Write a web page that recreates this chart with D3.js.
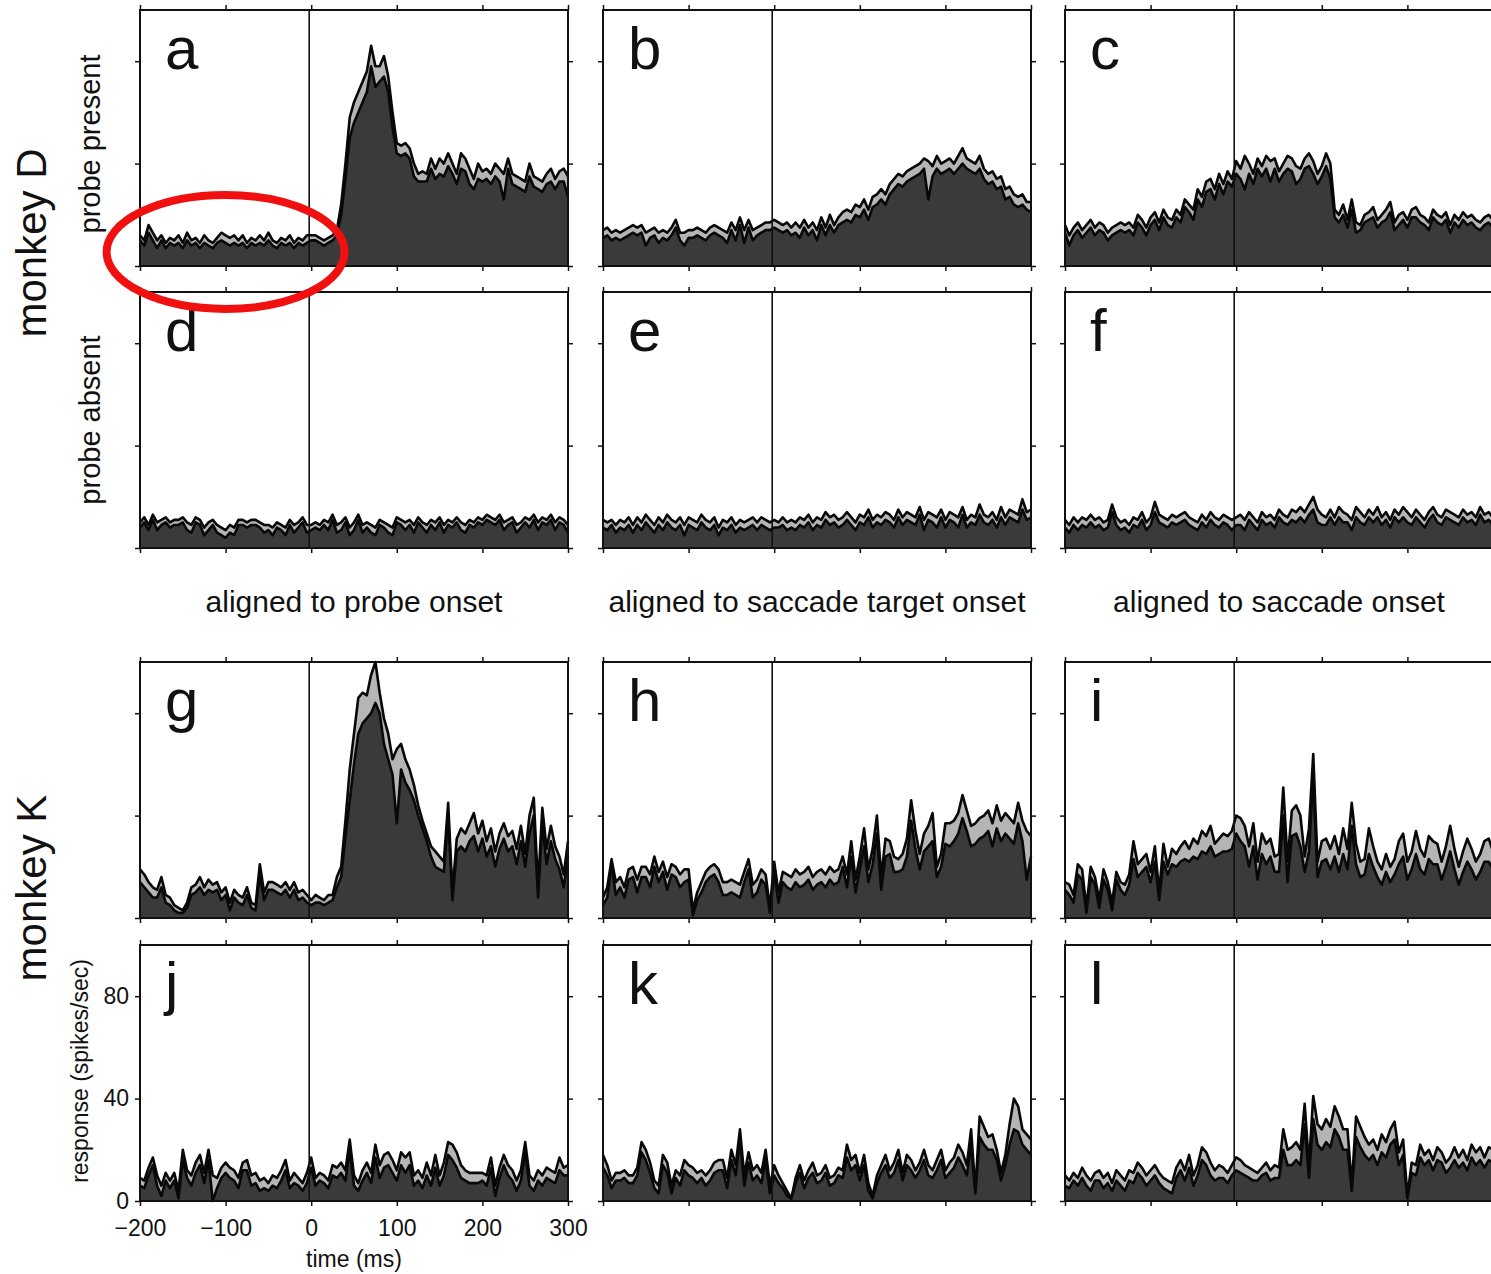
<!doctype html>
<html>
<head>
<meta charset="utf-8">
<script src="https://d3js.org/d3.v7.min.js"></script>
<style>
    body { margin: 0; background: #fff; }
    text { font-family: "Liberation Sans", Arial, sans-serif; fill: #111; }
    .tick line { stroke: #111; stroke-width: 1.5; }
</style>
</head>
<body>
<div id="fig"></div>
<script>

// time bins (ms), 5 ms wide, from -200 to 300
var times = d3.range(-200, 301, 5);
var xTicks = [-200, -100, 0, 100, 200, 300];
var yTicks = [0, 40, 80];

// monkey D, probe present
var aHi = [12,10,16,13,10,12,9,11,10,12, 9,13,10,11,9,12,10,9,11,13, 12,11,12,10,12,9,11,10,12,10, 13,10,9,11,10,12,9,11,10,12,
    12,
    12,11,10,11,12,14,24,40,58,64, 68,72,76,86,78,78,82,74,60,48, 47,48,46,40,36,37,36,42,38,42,
    40,44,40,36,44,42,38,34,40,37, 38,36,40,38,36,42,36,35,34,33, 40,35,34,33,36,38,34,37,38,35];
var aLo = [10,8,13,10,7,10,7,9,8,9, 7,10,8,9,7,9,8,7,9,10, 9,8,9,8,9,7,9,8,9,8, 10,8,7,9,8,9,7,9,8,9,
    10,
    10,9,8,9,10,12,20,34,50,56, 60,64,68,78,70,72,74,68,54,44, 43,44,42,35,33,33,33,38,34,36,
    35,39,36,32,38,37,32,30,34,33, 34,32,35,33,26,38,32,31,30,29, 35,31,30,29,32,33,30,33,33,27];
var bHi = [14,15,13,14,13,14,15,16,15,16, 13,14,15,13,14,13,15,18,13,13, 14,14,15,14,13,15,16,15,14,13, 17,14,19,14,18,14,15,16,17,17,
    18,
    17,16,17,15,17,15,18,15,17,14, 19,15,20,16,19,21,22,21,24,23, 26,22,27,28,30,28,32,34,36,35,
    37,38,39,40,42,41,39,43,40,41, 42,40,43,46,42,41,40,43,38,36, 37,34,35,30,31,28,27,28,25,25];
var bLo = [11,12,10,11,10,11,12,13,12,13, 8,11,12,9,11,10,12,15,10,8, 11,11,12,11,10,12,13,12,11,9, 14,10,16,9,15,10,12,13,14,14,
    15,
    14,13,14,12,13,11,15,12,14,10, 16,12,16,13,16,17,18,17,20,19, 22,18,23,24,26,24,28,30,32,31,
    33,34,35,36,38,26,35,38,36,37, 38,36,38,40,38,37,36,38,34,32, 33,30,31,26,27,24,23,24,22,21];
var cHi = [16,12,15,17,14,16,18,15,17,16, 13,15,16,17,16,17,15,20,18,15, 19,21,17,22,19,18,22,20,26,24, 22,30,27,33,34,30,36,32,37,34,
    41,
    38,43,40,36,42,39,43,41,42,37, 40,43,42,39,38,42,44,41,36,39, 44,40,22,20,24,18,26,17,16,20,
    21,23,18,20,22,25,17,20,21,18, 22,23,20,19,17,22,20,19,21,16, 20,18,21,19,20,18,17,19,20,18];
var cLo = [13,8,12,14,11,13,15,12,14,13, 10,12,13,14,13,14,12,17,15,12, 16,18,14,19,16,15,19,17,23,21, 18,26,23,29,30,26,32,28,33,31,
    36,
    34,30,36,32,38,35,38,33,38,33, 36,38,37,32,34,38,39,36,32,35, 39,34,19,17,20,15,22,13,14,17,
    18,19,15,17,18,21,14,16,18,15, 19,19,17,16,14,19,17,16,18,13, 17,15,18,16,17,15,14,16,17,15];

// monkey D, probe absent
var dHi = [10,12,9,13,10,11,12,10,11,11, 12,10,9,12,11,8,10,11,9,8, 7,9,8,11,11,10,11,11,10,9, 9,8,10,9,8,11,9,10,12,9,
    9,
    10,9,11,10,13,9,10,12,8,10, 13,9,10,9,8,11,10,9,8,12, 11,10,11,9,12,10,9,11,10,12,
    9,11,10,12,10,9,11,10,12,11, 13,12,11,13,10,11,12,9,10,12, 11,13,10,12,11,13,10,12,11,9];
var dLo = [8,10,7,11,7,9,10,8,9,9, 10,7,6,10,9,5,7,9,6,5, 4,6,5,9,9,8,9,9,8,6, 7,5,8,7,5,9,6,8,10,6,
    7,
    8,7,9,7,11,6,7,10,5,7, 11,6,8,6,5,9,8,6,5,10, 9,7,9,6,10,8,6,9,7,10,
    6,9,8,10,7,6,9,8,10,9, 11,10,9,11,7,9,10,6,8,10, 8,11,7,10,9,11,7,10,9,6];
var eHi = [11,10,11,9,11,10,12,9,12,10, 13,11,9,12,10,13,11,10,12,9, 12,11,10,13,11,10,12,8,11,10, 12,9,11,10,11,12,10,12,11,10,
    11,
    10,12,10,11,10,12,11,13,10,12, 11,14,12,13,11,12,14,12,10,13, 12,15,11,13,12,14,13,11,15,12,
    14,13,12,16,11,14,13,12,15,11, 14,13,12,16,11,13,12,17,13,12, 14,11,16,12,15,14,13,19,14,15];
var eLo = [8,7,9,6,8,7,9,6,9,7, 10,8,6,9,7,10,8,7,9,5, 9,8,7,10,8,7,9,5,8,7, 9,6,8,7,8,9,7,9,8,7,
    8,
    8,9,7,8,7,9,8,10,7,9, 8,11,9,10,8,9,11,9,7,10, 9,12,8,10,9,11,10,8,12,9,
    11,10,9,13,7,11,10,8,12,8, 11,10,8,13,8,10,9,13,10,9, 11,8,12,9,12,11,10,15,11,12];
var fHi = [11,9,12,10,12,11,13,11,12,10, 11,17,12,10,11,9,12,11,14,10, 12,18,13,12,11,13,12,13,14,12, 11,10,13,11,14,12,11,13,12,11,
    12,
    13,11,14,12,10,14,12,13,11,15, 13,12,15,14,16,14,17,20,15,13, 12,15,12,16,14,13,11,16,14,12,
    15,13,16,12,14,11,15,13,16,14, 12,15,13,11,14,16,13,12,15,14, 13,12,15,13,14,12,16,13,14,12];
var fLo = [8,6,9,7,9,8,10,8,9,7, 8,14,9,7,8,6,9,8,11,7, 9,14,10,9,8,10,9,10,11,9, 8,7,10,8,11,9,8,10,9,7,
    9,
    9,7,11,9,7,11,9,10,8,12, 10,9,11,10,12,10,13,15,10,9, 9,12,9,12,10,10,7,12,10,9,
    12,10,12,9,11,8,12,10,12,10, 9,12,10,8,11,13,10,9,12,11, 10,9,12,10,11,9,13,10,11,9];

// monkey K, probe present
var gHi = [19,17,14,12,11,16,9,8,5,4, 3,6,12,13,16,12,15,13,14,10, 12,6,11,9,8,12,6,5,21,10, 14,14,13,12,14,11,14,10,11,9,
    7,
    9,8,7,9,9,16,20,38,58,72, 86,88,87,95,100,88,78,72,62,66, 68,62,58,52,44,38,33,28,26,24,
    22,45,10,31,35,33,37,41,33,38, 30,35,26,33,37,32,34,27,36,25, 40,47,12,43,27,36,28,24,17,30];
var gLo = [14,12,10,8,8,12,6,5,3,2, 2,4,9,10,12,9,11,10,11,7, 9,3,8,6,5,9,4,3,17,7, 11,11,10,9,11,8,11,7,8,6,
    5,
    6,6,5,6,7,12,16,32,46,60, 72,76,78,80,84,80,68,62,56,37, 58,53,50,46,40,35,30,24,20,19,
    18,40,7,26,28,26,30,32,26,31, 24,28,20,27,31,26,28,21,30,20, 33,40,8,37,21,30,23,19,12,24];
var hHi = [8,12,23,14,16,12,19,20,15,20, 20,17,24,18,22,16,21,20,17,19, 19,3,10,14,18,20,21,19,14,14, 15,14,13,18,23,13,15,19,17,4,
    22,
    10,18,17,16,19,17,18,20,16,18, 19,17,20,18,19,24,17,30,15,24, 35,19,27,40,16,31,30,24,23,25,
    31,46,34,25,33,36,41,20,25,37, 37,38,41,48,42,36,37,39,40,42, 37,44,38,41,39,37,45,38,34,32];
var hLo = [5,8,21,9,12,8,15,16,10,16, 16,12,20,14,18,11,17,16,12,14, 15,1,7,10,14,16,17,14,9,9, 10,9,8,14,19,8,10,15,13,2,
    18,
    6,14,12,11,14,12,13,15,11,13, 14,12,15,13,14,20,12,24,10,19, 28,14,21,33,11,24,25,18,18,19,
    24,38,27,19,26,28,30,16,20,29, 28,30,33,39,34,28,29,31,32,34, 28,35,30,33,31,29,37,30,15,24];
var iHi = [14,13,9,21,19,4,20,16,7,19, 14,6,18,14,13,17,30,21,23,25, 18,28,10,29,20,27,25,28,30,27, 31,29,34,32,36,29,31,33,32,34,
    40,
    39,36,28,37,22,33,29,31,24,25, 51,22,42,44,40,24,35,64,22,30, 31,27,32,25,35,27,45,29,22,23,
    35,28,22,19,25,20,23,30,33,22, 26,34,27,24,32,30,29,22,28,36, 27,20,26,31,27,22,25,30,31,26];
var iLo = [11,9,6,17,15,2,16,13,4,15, 11,3,15,11,9,13,23,16,18,20, 14,22,7,22,17,21,20,22,23,22, 24,23,26,25,28,24,25,26,26,27,
    33,
    30,28,20,28,15,25,21,24,18,18, 40,14,32,33,28,18,26,55,16,22, 23,19,24,18,25,19,36,21,16,17,
    25,20,16,13,18,14,17,21,24,15, 19,25,19,17,23,21,21,15,20,26, 19,13,18,22,19,15,18,22,22,19];

// monkey K, probe absent
var jHi = [9,8,13,17,10,6,11,8,11,4, 20,12,10,15,18,11,20,10,9,13, 15,13,12,9,15,16,10,11,8,9, 7,10,9,12,16,8,11,9,7,11,
    17,
    9,11,10,8,14,13,15,12,24,10, 7,12,15,11,22,14,18,19,16,12, 19,17,19,10,12,9,15,10,18,10,
    15,23,22,19,14,12,11,11,11,11, 10,17,6,13,18,14,12,8,12,23, 10,8,12,10,13,12,11,17,13,14];
var jLo = [6,5,10,14,6,2,8,5,8,1, 16,9,6,11,14,7,16,0,5,9, 11,9,8,5,12,12,6,7,4,5, 4,6,5,8,12,5,7,6,4,7,
    13,
    6,8,7,5,10,9,11,8,20,6, 4,8,11,7,17,9,13,14,11,8, 14,11,14,6,8,5,10,6,13,6,
    10,18,16,13,9,8,7,7,7,8, 6,13,2,9,14,10,8,4,8,19, 6,4,8,6,9,8,7,12,10,10];
var kHi = [18,14,8,11,11,12,10,10,13,23, 20,15,8,6,18,15,6,12,10,16, 14,13,11,12,10,12,15,16,16,9, 20,14,28,10,19,12,14,11,20,6,
    14,
    10,7,4,1,9,14,8,12,15,10, 11,14,9,10,13,12,22,16,18,11, 18,7,2,10,14,18,12,15,20,11,
    18,16,12,15,20,14,12,16,20,12, 15,17,22,19,14,28,4,33,29,25, 26,20,11,18,30,40,37,28,26,24];
var kLo = [13,10,5,8,8,9,7,7,10,19, 16,11,5,3,14,11,3,9,6,12, 10,9,7,9,6,8,11,12,12,5, 16,10,24,6,15,8,10,7,16,3,
    10,
    7,5,2,1,7,11,5,9,11,7, 8,11,6,7,10,9,17,12,14,8, 14,4,1,7,11,14,9,11,16,8,
    14,12,9,12,16,10,9,12,16,9, 11,13,17,14,10,22,3,25,22,20, 20,16,8,14,22,28,27,22,20,18];
var lHi = [10,8,11,9,13,10,8,11,12,9, 11,7,12,10,8,12,11,15,13,10, 12,14,11,9,8,7,13,16,12,18, 10,14,21,19,15,12,14,13,11,14,
    17,
    16,14,13,12,11,13,15,12,14,13, 28,20,21,23,20,38,14,41,30,28, 32,29,37,33,28,28,6,33,29,25,
    22,24,20,26,23,28,31,19,24,2, 15,14,22,18,20,16,21,19,15,17, 21,17,20,16,22,19,21,17,21,20];
var lLo = [6,5,8,6,9,6,4,8,8,5, 7,4,8,6,4,8,7,11,9,6, 8,10,7,5,4,3,9,12,8,13, 6,10,16,14,10,8,9,9,7,10,
    12,
    11,10,9,8,8,10,11,8,9,9, 20,14,14,16,14,30,9,32,22,20, 23,21,28,25,20,20,4,25,21,18,
    16,18,14,19,17,22,24,14,18,1, 11,10,17,14,16,12,16,15,11,13, 16,13,15,12,17,14,16,13,16,15];

var panelLetters = ["a","b","c","d","e","f","g","h","i","j","k","l"];
var hiSeries = [aHi,bHi,cHi,dHi,eHi,fHi,gHi,hHi,iHi,jHi,kHi,lHi];
var loSeries = [aLo,bLo,cLo,dLo,eLo,fLo,gLo,hLo,iLo,jLo,kLo,lLo];
var colTitles = ["aligned to probe onset", "aligned to saccade target onset", "aligned to saccade onset"];

// layout
var W = 1491, H = 1274;
var colX = [140, 603, 1065],
    rowY = [10, 292, 662, 945],
    pw = 428, ph = 256;

var svg = d3.select("#fig").append("svg")
    .attr("width", W)
    .attr("height", H);

var x = d3.scaleLinear().domain([-200, 300]).range([0, pw]);
var y = d3.scaleLinear().domain([0, 100]).range([ph, 0]);

var hiArea = d3.area().x(function(d) { return x(d.t); }).y0(ph).y1(function(d) { return y(d.hi); });
var loArea = d3.area().x(function(d) { return x(d.t); }).y0(ph).y1(function(d) { return y(d.lo); });
var hiLine = d3.line().x(function(d) { return x(d.t); }).y(function(d) { return y(d.hi); });
var loLine = d3.line().x(function(d) { return x(d.t); }).y(function(d) { return y(d.lo); });

panelLetters.forEach(function(letter, k) {
    var col = k % 3, row = Math.floor(k / 3);
    var rows = times.map(function(t, i) { return {t: t, hi: hiSeries[k][i], lo: loSeries[k][i]}; });
    var g = svg.append("g")
        .attr("transform", "translate(" + colX[col] + "," + rowY[row] + ")");

    var labelled = (letter === "j");

    //areas: light top band, then dark part on top of it
    g.append("path").datum(rows).attr("d", hiArea).attr("fill", "#b5b5b5");
    g.append("path").datum(rows).attr("d", loArea).attr("fill", "#3a3a3a");
    g.append("path").datum(rows).attr("d", hiLine)
        .attr("fill", "none").attr("stroke", "#080808").attr("stroke-width", 2.6).attr("stroke-linejoin", "round");
    g.append("path").datum(rows).attr("d", loLine)
        .attr("fill", "none").attr("stroke", "#080808").attr("stroke-width", 2.6).attr("stroke-linejoin", "round");

    // zero line
    g.append("line")
        .attr("x1", x(0) - 2).attr("x2", x(0) - 2)
        .attr("y1", 0).attr("y2", ph)
        .attr("stroke", "#111").attr("stroke-width", 1.6);

    // axes (ticks only, outward)
    var bottom = g.append("g").attr("transform", "translate(0," + ph + ")")
        .call(d3.axisBottom(x).tickValues(xTicks).tickSize(5).tickSizeOuter(0).tickPadding(14)
            .tickFormat(labelled ? d3.format("d") : ""));
    var top = g.append("g")
        .call(d3.axisTop(x).tickValues(xTicks).tickSize(5).tickSizeOuter(0).tickFormat(""));
    var left = g.append("g")
        .call(d3.axisLeft(y).tickValues(yTicks).tickSize(5).tickSizeOuter(0).tickPadding(6)
            .tickFormat(labelled ? d3.format("d") : ""));
    var right = g.append("g").attr("transform", "translate(" + pw + ",0)")
        .call(d3.axisRight(y).tickValues(yTicks).tickSize(5).tickSizeOuter(0).tickFormat(""));
    [bottom, top, left, right].forEach(function(a) {
        a.select(".domain").remove();
        a.selectAll("text").style("font-size", "23px").attr("fill", "#111");
    });

    // frame
    g.append("rect")
        .attr("width", pw).attr("height", ph)
        .attr("fill", "none").attr("stroke", "#111").attr("stroke-width", 2);

    g.append("text")
        .attr("x", 25).attr("y", 59)
        .style("font-size", "60px")
        .text(letter);

    if (labelled) {
        g.append("text")
            .attr("x", x(50)).attr("y", ph + 66)
            .attr("text-anchor", "middle")
            .style("font-size", "23px")
            .text("time (ms)");
        g.append("text")
            .attr("transform", "translate(-52," + (ph / 2 - 2) + ") rotate(-90)")
            .attr("text-anchor", "middle")
            .style("font-size", "23px")
            .text("response (spikes/sec)");
    }
});

// column titles
colTitles.forEach(function(t, i) {
    svg.append("text")
        .attr("x", colX[i] + pw / 2)
        .attr("y", 612)
        .attr("text-anchor", "middle")
        .style("font-size", "30px")
        .text(t);
});

// row labels
function vlabel(txt, cx, cy, size) {
    svg.append("text")
        .attr("transform", "translate(" + cx + "," + cy + ") rotate(-90)")
        .attr("text-anchor", "middle")
        .style("font-size", size + "px")
        .text(txt);
}
vlabel("probe present", 100, 144, 29);
vlabel("probe absent", 100, 420, 29);
vlabel("monkey D", 46, 243, 42);
vlabel("monkey K", 46, 888, 42);

// red annotation ellipse around the baseline of panel a
svg.append("ellipse")
    .attr("cx", colX[0] + x(-100))
    .attr("cy", rowY[0] + y(5.5))
    .attr("rx", 119).attr("ry", 57)
    .attr("fill", "none")
    .attr("stroke", "#f01010")
    .attr("stroke-width", 8);

</script>
</body>
</html>
